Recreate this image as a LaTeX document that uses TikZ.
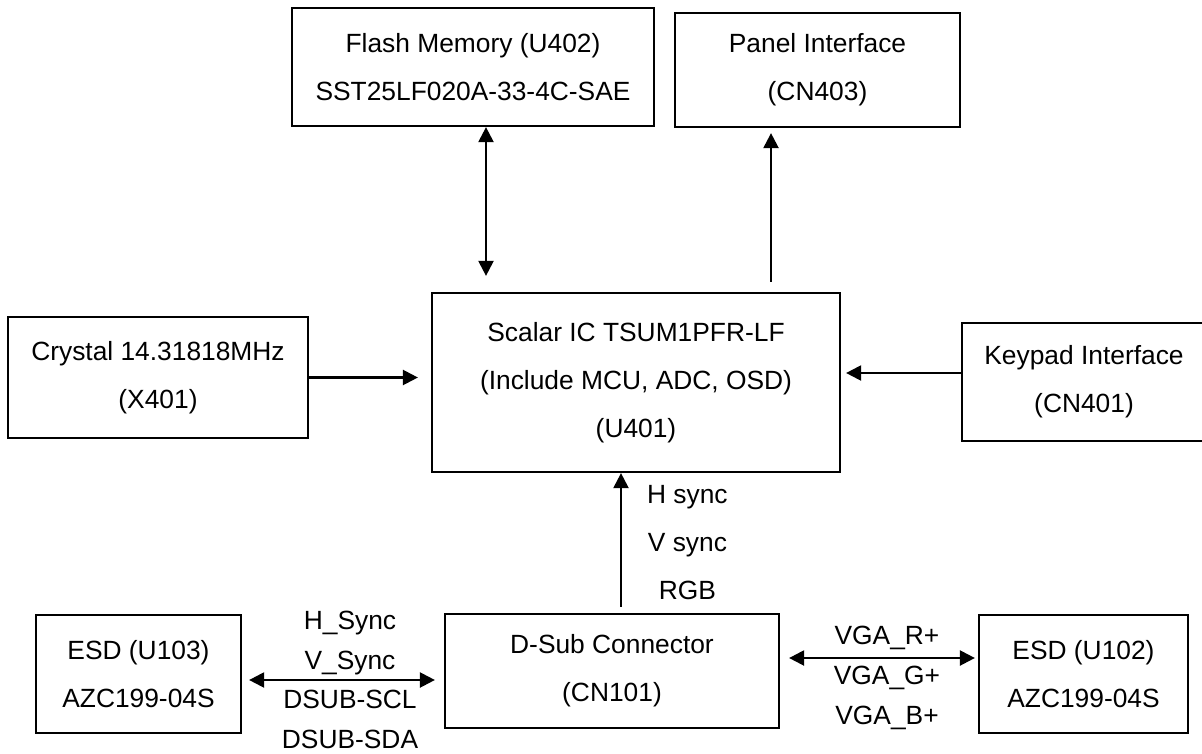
\documentclass[tikz,border=0pt]{standalone}
\usepackage{fontspec}
\setmainfont{Liberation Sans}
\usetikzlibrary{positioning,arrows.meta}

\begin{document}
\begin{tikzpicture}[x=0.02cm, y=-0.02cm, line width=1.3pt,
    >={Triangle[length=0.3cm, width=0.3cm]},
    rect/.style={rectangle, draw=black, align=center, font=\fontsize{15}{27.3}\selectfont},
    lbl/.style={align=center, inner sep=0pt, font=\fontsize{15}{22.6}\selectfont}]
    \useasboundingbox (0,0) rectangle (1202,753);

    % Nodes
    \node[rect, minimum width=7.24cm, minimum height=2.36cm] (flash) at (473,67) {Flash Memory (U402)\\SST25LF020A-33-4C-SAE};
    \node[rect, minimum width=5.7cm, minimum height=2.28cm] (panel) at (817.5,70) {Panel Interface\\(CN403)};
    \node[rect, minimum width=8.16cm, minimum height=3.58cm] (scalar) at (636,382.5) {Scalar IC TSUM1PFR-LF\\(Include MCU, ADC, OSD)\\(U401)};
    \node[rect, minimum width=6cm, minimum height=2.42cm] (crystal) at (158,377.5) {Crystal 14.31818MHz\\(X401)};
    \node[rect, minimum width=4.88cm, minimum height=2.36cm] (keypad) at (1084,382) {Keypad Interface\\(CN401)};
    \node[rect, minimum width=6.68cm, minimum height=2.28cm] (dsub) at (612,671) {D-Sub Connector\\(CN101)};
    \node[rect, minimum width=4.1cm, minimum height=2.36cm] (esd103) at (138.5,674) {ESD (U103)\\AZC199-04S};
    \node[rect, minimum width=4.18cm, minimum height=2.36cm] (esd102) at (1083.5,674) {ESD (U102)\\AZC199-04S};

    % Arrows
    \draw[<->, shorten >=0.32cm] ([xshift=0.26cm]flash.south) -- ([xshift=0.26cm]flash.south |- scalar.north);
    \draw[->, shorten <=0.2cm, shorten >=0.1cm] ([xshift=-0.93cm]panel.south |- scalar.north) -- ([xshift=-0.93cm]panel.south);
    \draw[->, shorten >=0.26cm] (crystal.east) -- (crystal.east -| scalar.west);
    \draw[->, shorten >=0.1cm] ([yshift=0.18cm]keypad.west) -- ([yshift=0.18cm]keypad.west -| scalar.east);
    \draw[->, shorten <=0.12cm] ([xshift=0.18cm]dsub.north) -- ([xshift=0.18cm]dsub.north |- scalar.south)
        node[lbl, midway, right=0.5cm, font=\fontsize{15}{27.3}\selectfont] {H sync\\V sync\\RGB};
    \draw[<->, shorten <=0.14cm, shorten >=0.18cm] ([yshift=-0.12cm]esd103.east) -- ([yshift=-0.12cm]esd103.east -| dsub.west)
        node[lbl, midway, xshift=0.14cm] {H\_Sync\\V\_Sync\\DSUB-SCL\\DSUB-SDA};
    \draw[<->, shorten <=0.18cm, shorten >=0.06cm] ([yshift=0.26cm]dsub.east) -- ([yshift=0.26cm]dsub.east -| esd102.west)
        node[lbl, midway, xshift=0.16cm, yshift=-0.4cm] {VGA\_R+\\VGA\_G+\\VGA\_B+};
\end{tikzpicture}
\end{document}
